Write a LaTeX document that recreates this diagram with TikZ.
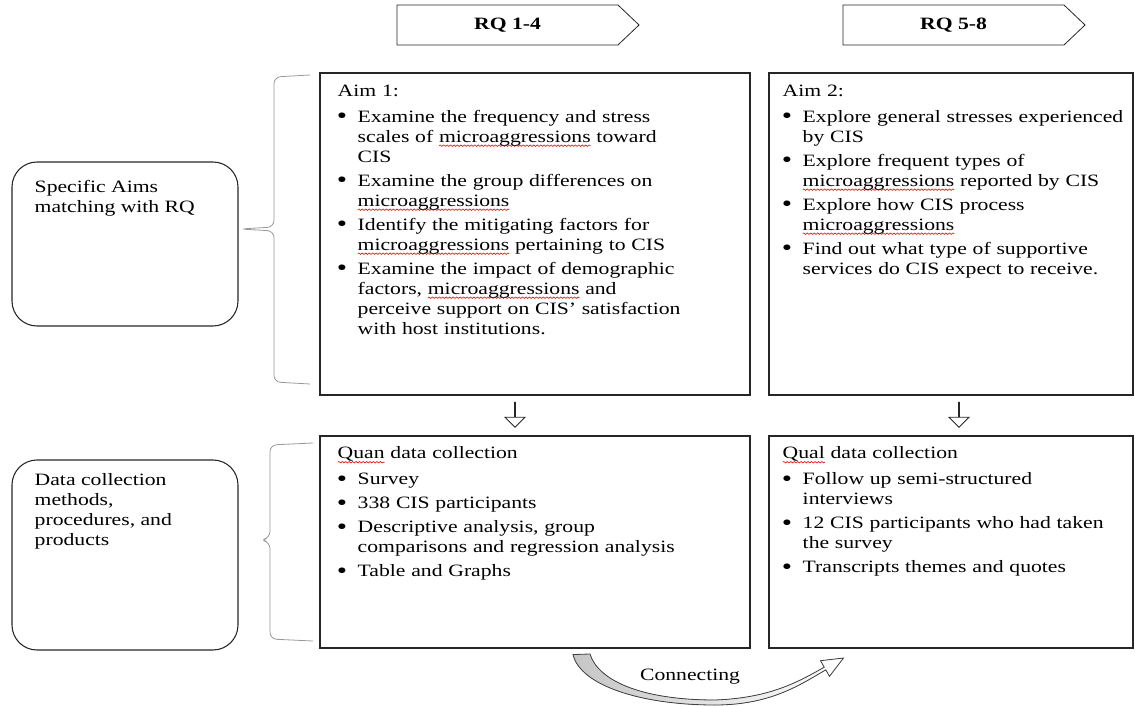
\documentclass[tikz,border=0pt]{standalone}
\usepackage{fontspec}
\setmainfont{Liberation Serif}[FakeStretch=1.25]
\usepackage{enumitem}
\usetikzlibrary{shapes, shapes.arrows, shapes.symbols, arrows.meta, positioning, calc, decorations.pathmorphing}
\tikzset{
    mainbox/.style={rectangle, draw=black!85, line width=0.8pt},
    sidebox/.style={rectangle, draw=black!85, line width=0.8pt, rounded corners=18.75pt, minimum width=169.5pt},
    listtext/.style={anchor=north west, inner sep=0pt, align=left},
    rqtag/.style={signal, signal to=east, signal pointer angle=87, draw=black!85, line width=0.6pt, minimum width=181.5pt, minimum height=30pt, inner sep=0pt, font=\fontsize{13pt}{15pt}\selectfont\bfseries},
    hollowdown/.style={single arrow, draw=black!85, rotate=-90, minimum height=18.75pt, minimum width=15pt, single arrow head extend=4.875pt, inner sep=0pt, line width=0.6pt},
    bracket/.style={draw=gray!80, line width=0.6pt, rounded corners=5pt},
    connarrow/.style={draw=black!75, line width=0.6pt, left color=gray!45, right color=white}
}
\setlist[itemize]{label=\raisebox{-1.2pt}{\scalebox{1.35}{\textbullet}}, leftmargin=15pt, labelsep=8pt, itemsep=3pt, parsep=0pt, topsep=4.5pt, partopsep=0pt}
\newsavebox{\spellbox}
\newlength{\spellwd}
\newcommand{\spellmark}[1]{\sbox{\spellbox}{#1}\setlength{\spellwd}{\wd\spellbox}%
  \tikz[overlay, baseline=0pt]\draw[red, line width=0.45pt, decorate, decoration={snake, amplitude=0.55pt, segment length=2.6pt}] (0pt,-2.6pt) -- (\spellwd,-2.6pt);%
  \usebox{\spellbox}}

\begin{document}
\begin{tikzpicture}[x=0.75pt, y=-0.75pt, font=\fontsize{13pt}{15pt}\selectfont]
\useasboundingbox (0,0) rectangle (1135,706);

% research question tags
\node[rqtag] (rqone) at (507.5,25) {RQ 1-4};
\node[rqtag] (rqtwo) at (953.5,25) {RQ 5-8};

% side labels
\node[sidebox, minimum height=123pt] (specaims) at (125,244) {};
\node[listtext] (specaimstext) at ([shift={(23,19)}]specaims.north west) {Specific Aims\\matching with RQ};
\node[sidebox, minimum height=142.5pt] (datacoll) at (125,555) {};
\node[listtext] (datacolltext) at ([shift={(23,14)}]datacoll.north west) {Data collection\\methods,\\procedures, and\\products};

% aims
\node[mainbox, minimum width=322.5pt, minimum height=241.5pt] (aimone) at (535,234) {};
\node[listtext, text width=304.5pt] (aimonetext) at ([shift={(18,12)}]aimone.north west) {Aim 1:
\begin{itemize}
\item Examine the frequency and stress\\ scales of \spellmark{microaggressions} toward\\ CIS
\item Examine the group differences on\\ \spellmark{microaggressions}
\item Identify the mitigating factors for\\ \spellmark{microaggressions} pertaining to CIS
\item Examine the impact of demographic\\ factors, \spellmark{microaggressions} and\\ perceive support on CIS' satisfaction\\ with host institutions.
\end{itemize}};

\node[mainbox, minimum width=273pt, minimum height=241.5pt] (aimtwo) at (951,234) {};
\node[listtext, text width=259.5pt] (aimtwotext) at ([shift={(14,12)}]aimtwo.north west) {Aim 2:
\begin{itemize}
\item Explore general stresses experienced\\ by CIS
\item Explore frequent types of\\ \spellmark{microaggressions} reported by CIS
\item Explore how CIS process\\ \spellmark{microaggressions}
\item Find out what type of supportive\\ services do CIS expect to receive.
\end{itemize}};

% data collection
\node[mainbox, minimum width=322.5pt, minimum height=159pt] (quan) at (535,542) {};
\node[listtext, text width=304.5pt] (quantext) at ([shift={(18,11)}]quan.north west) {\spellmark{Quan} data collection
\begin{itemize}
\item Survey
\item 338 CIS participants
\item Descriptive analysis, group\\ comparisons and regression analysis
\item Table and Graphs
\end{itemize}};

\node[mainbox, minimum width=273pt, minimum height=159pt] (qual) at (951,542) {};
\node[listtext, text width=259.5pt] (qualtext) at ([shift={(14,11)}]qual.north west) {\spellmark{Qual} data collection
\begin{itemize}
\item Follow up semi-structured\\ interviews
\item 12 CIS participants who had taken\\ the survey
\item Transcripts themes and quotes
\end{itemize}};

% block arrows between rows
\node[hollowdown] (downone) at (515,414.5) {};
\node[hollowdown] (downtwo) at (959,414.5) {};

% braces
\draw[bracket] (310,75) -- (274,77) -- (274,227) -- (240,229) -- (274,231) -- (274,382) -- (310,384);
\draw[bracket] (313,443) -- (270,445) -- (270,538) -- (260,540) -- (270,542) -- (270,639) -- (313,641);

% connecting arrow
\coordinate (connfrom) at ($(quan.south)+(38,6)$);
\coordinate (connto) at ($(qual.south west)+(75,9.5)$);
\filldraw[connarrow] (connfrom) .. controls (580,685) and (640,705) .. (715,705)
    .. controls (770,705) and (800,685) .. (825.75,669.8) -- (829.5,676.3) -- (connto)
    -- (820.5,660.7) -- (824.25,667.2) .. controls (798,682) and (770,698) .. (715,700)
    .. controls (640,700) and (598,680) .. (590,654) -- cycle;
\node (conntext) at (690,677) {Connecting};
\end{tikzpicture}
\end{document}
